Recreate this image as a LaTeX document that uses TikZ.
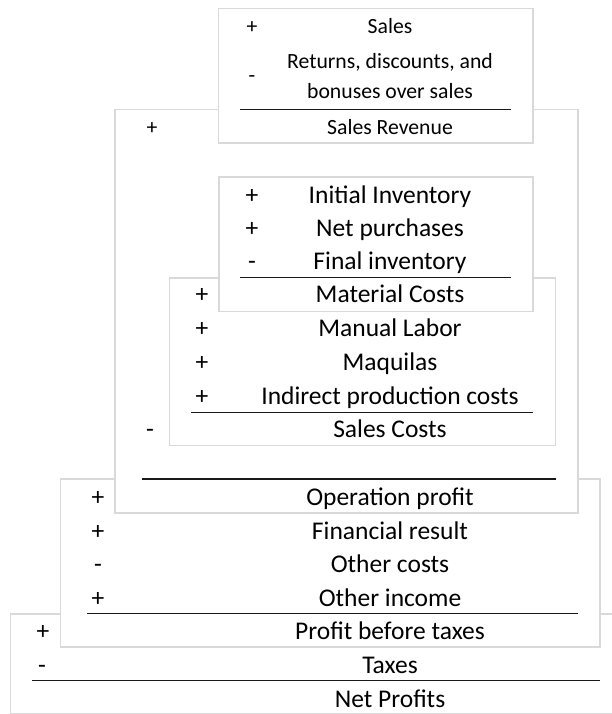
\documentclass[tikz,border=0pt]{standalone}
\usepackage{fontspec}
\setmainfont{Carlito}
\usetikzlibrary{positioning}
\definecolor{framegray}{RGB}{217,217,217}
\definecolor{rulegray}{RGB}{25,25,25}
\tikzset{
  panel/.style={draw=framegray, fill=white, line width=1.2pt},
  rule/.style={draw=rulegray, line width=1.3pt},
  entry/.style={anchor=base, inner sep=0pt, font=\fontsize{25.5}{30}\selectfont},
  smallentry/.style={entry, font=\fontsize{21.7}{26}\selectfont}
}

\begin{document}
\begin{tikzpicture}[x=1pt, y=-1pt]
  \useasboundingbox (0,0) rectangle (612,714);
  % nested panels, back to front
  \draw[panel] (10.5,614) rectangle (625,713.5);
  \draw[panel] (60.5,479) rectangle (600,647);
  \draw[panel] (115,109.5) rectangle (578,513);
  \draw[panel] (169.5,278) rectangle (555.5,445.5);
  \draw[panel] (219,177) rectangle (533,311.5);
  \draw[panel] (218.5,8.5) rectangle (533,143);
  % subtotal rules
  \coordinate (salesL) at (240,109.3);   \coordinate (salesR) at (511,109.3);
  \coordinate (invL) at (240,277.3);     \coordinate (invR) at (511,277.3);
  \coordinate (costL) at (191,412.2);    \coordinate (costR) at (533,412.2);
  \coordinate (opL) at (142,479);        \coordinate (opR) at (556,479);
  \coordinate (prebL) at (87,613.7);     \coordinate (prebR) at (578,613.7);
  \coordinate (netL) at (32,680.7);      \coordinate (netR) at (600,680.7);
  \draw[rule] (salesL) -- (salesR);
  \draw[rule] (invL) -- (invR);
  \draw[rule] (costL) -- (costR);
  \draw[rule] (opL) -- (opR);
  \draw[rule] (prebL) -- (prebR);
  \draw[rule] (netL) -- (netR);
  % sales
  \node[smallentry] (salesS) at (252,33.5) {+};
  \node[smallentry] (sales) at (390,33.5) {Sales};
  \node[smallentry] (retS) at (252,83) {-};
  \node[smallentry] (ret1) at (390,68.5) {Returns, discounts, and};
  \node[smallentry] (ret2) at (390,99) {bonuses over sales};
  \node[smallentry] (revS) at (152,134.5) {+};
  \node[smallentry] (rev) at (390,134.5) {Sales Revenue};
  % inventory
  \node[entry] (iniS) at (252,203.5) {+};
  \node[entry] (ini) at (390,203.5) {Initial Inventory};
  \node[entry] (purS) at (252,236.5) {+};
  \node[entry] (pur) at (390,236.5) {Net purchases};
  \node[entry] (finS) at (252,269) {-};
  \node[entry] (fin) at (390,269) {Final inventory};
  % sales costs
  \node[entry] (matS) at (202,302.5) {+};
  \node[entry] (mat) at (390,302.5) {Material Costs};
  \node[entry] (labS) at (202,336.5) {+};
  \node[entry] (lab) at (390,336.5) {Manual Labor};
  \node[entry] (maqS) at (202,370.5) {+};
  \node[entry] (maq) at (390,370.5) {Maquilas};
  \node[entry] (indS) at (202,404) {+};
  \node[entry] (ind) at (390,404) {Indirect production costs};
  \node[entry] (scS) at (150,437.5) {-};
  \node[entry] (sc) at (390,437.5) {Sales Costs};
  % profits
  \node[entry] (opS) at (98,505.5) {+};
  \node[entry] (op) at (390,505.5) {Operation profit};
  \node[entry] (frS) at (98,539) {+};
  \node[entry] (fr) at (390,539) {Financial result};
  \node[entry] (ocS) at (98,572.5) {-};
  \node[entry] (oc) at (390,572.5) {Other costs};
  \node[entry] (oiS) at (98,606) {+};
  \node[entry] (oi) at (390,606) {Other income};
  \node[entry] (pbtS) at (43,639.5) {+};
  \node[entry] (pbt) at (390,639.5) {Profit before taxes};
  \node[entry] (taxS) at (42,673.5) {-};
  \node[entry] (tax) at (390,673.5) {Taxes};
  \node[entry] (net) at (390,707) {Net Profits};
\end{tikzpicture}
\end{document}
